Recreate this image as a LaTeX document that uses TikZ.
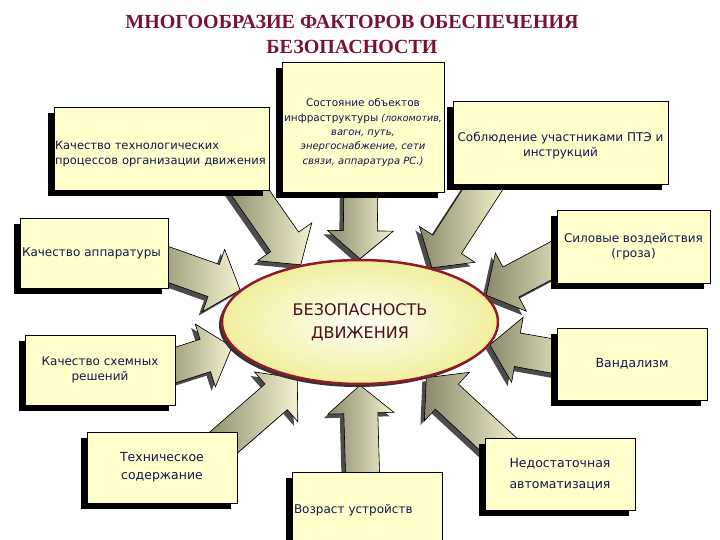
\documentclass[tikz,border=0pt]{standalone}
\usepackage{fontspec}
\setmainfont{DejaVu Sans}
\newfontfamily\titlefont{Liberation Serif}
\usetikzlibrary{calc,shadows,backgrounds,shapes.geometric}
\definecolor{boxfill}{HTML}{FFFFCC}
\definecolor{navytext}{HTML}{141450}
\definecolor{titlered}{HTML}{7A1232}
\definecolor{ellborder}{HTML}{8E1A2A}
\definecolor{elltext}{HTML}{4A0F1E}
\definecolor{arrdark}{HTML}{8A8A6A}
\definecolor{arrlight}{HTML}{F4F2CE}
\definecolor{ellin}{HTML}{FFFFF4}
\definecolor{ellout}{HTML}{F2EE9E}
\newcommand\blockarr[2]{%
  \path ($(#2)!28pt!(#1)$) coordinate (hb);
  \filldraw[arrowshape] ($(#1)!17pt!90:(#2)$) -- ($(hb)!17pt!90:(#2)$) -- ($(hb)!33pt!90:(#2)$) -- (#2)
    -- ($(hb)!33pt!-90:(#2)$) -- ($(hb)!17pt!-90:(#2)$) -- ($(#1)!17pt!-90:(#2)$) -- cycle;}
\tikzset{
  fbox/.style={draw=black, line width=0.5pt, fill=boxfill,
    drop shadow={shadow xshift=-6pt, shadow yshift=-6pt, fill=black, opacity=1},
    text=navytext, font=\fontsize{12}{15}\selectfont, inner sep=2pt, align=center},
  arrowshape/.style={draw=black, line width=0.6pt, left color=arrdark, right color=arrlight,
    drop shadow={shadow xshift=-4pt, shadow yshift=-4pt, fill=black!70, opacity=1}},
}
\begin{document}
\begin{tikzpicture}[x=1pt,y=-1pt]
\useasboundingbox (0,0) rectangle (720,540);
\node[font=\titlefont\bfseries\fontsize{20}{25}\selectfont, text=titlered, align=center] (title) at (352,34)
  {МНОГООБРАЗИЕ ФАКТОРОВ ОБЕСПЕЧЕНИЯ\\БЕЗОПАСНОСТИ};
\node[fbox, minimum width=215pt, minimum height=83pt, inner xsep=1pt, text width=213pt, align=left,
  font=\fontsize{11.5}{14.5}\selectfont] (b1) at (161.5,148.5)
  {\rule{0pt}{19pt}Качество технологических\\процессов организации движения};
\node[fbox, minimum width=160pt, minimum height=130pt, font=\fontsize{10}{14.3}\selectfont] (b2) at (363,127)
  {\rule{0pt}{19pt}{\fontsize{10.5}{14.3}\selectfont Состояние объектов}\\{\fontsize{10.5}{14.3}\selectfont инфраструктуры} {\fontsize{9.5}{14.3}\selectfont\itshape (локомотив,}\\\textit{вагон, путь,}\\\textit{энергоснабжение, сети}\\\textit{связи, аппаратура РС.)}};
\node[fbox, minimum width=215pt, minimum height=83pt] (b3) at (560.5,142.5)
  {\rule{0pt}{16pt}Соблюдение участниками ПТЭ и\\инструкций};
\node[fbox, minimum width=148pt, minimum height=70pt, text width=144pt, align=left] (b4) at (94,253)
  {Качество аппаратуры};
\node[fbox, minimum width=153pt, minimum height=73pt] (b5) at (633.5,246.5)
  {Силовые воздействия\\(гроза)};
\node[fbox, minimum width=150pt, minimum height=70pt] (b6) at (100,370)
  {Качество схемных\\решений};
\node[fbox, minimum width=150pt, minimum height=72pt, font=\fontsize{12.5}{15}\selectfont] (b7) at (632,364)
  {Вандализм};
\node[fbox, minimum width=150pt, minimum height=71pt, font=\fontsize{12.5}{18}\selectfont] (b8) at (162,467.5)
  {Техническое\\содержание};
\node[fbox, minimum width=150pt, minimum height=76pt, text width=146pt, align=left] (b9) at (367,510)
  {Возраст устройств};
\node[fbox, minimum width=150pt, minimum height=72pt, font=\fontsize{12.5}{15}\selectfont] (b10) at (560,474)
  {Недостаточная\\[6pt]автоматизация};
\node[ellipse, minimum width=276pt, minimum height=124pt, draw=ellborder, line width=2.5pt,
  inner color=ellin, outer color=ellout,
  drop shadow={shadow xshift=-3pt, shadow yshift=-3pt, fill=black!80, opacity=1},
  text=elltext, align=center, font=\fontsize{16}{23}\selectfont] (ell) at (360,322)
  {БЕЗОПАСНОСТЬ\\ДВИЖЕНИЯ};
\coordinate (t1) at (238,175);
\coordinate (t2) at (361,175);
\coordinate (t3) at (492,175);
\coordinate (t4) at (150,258);
\coordinate (t5) at (575,248);
\coordinate (t6) at (160,370);
\coordinate (t7) at (575,360);
\coordinate (t8) at (215,450);
\coordinate (t9) at (363,490);
\coordinate (t10) at (510,455);
\begin{pgfonlayer}{background}
\blockarr{t1}{ell.136}
\blockarr{t2}{ell.90}
\blockarr{t3}{ell.37}
\blockarr{t4}{ell.165}
\blockarr{t5}{ell.12}
\blockarr{t6}{ell.191}
\blockarr{t7}{ell.350}
\blockarr{t8}{ell.222}
\blockarr{t9}{ell.270}
\blockarr{t10}{ell.320}
\end{pgfonlayer}
\end{tikzpicture}
\end{document}
